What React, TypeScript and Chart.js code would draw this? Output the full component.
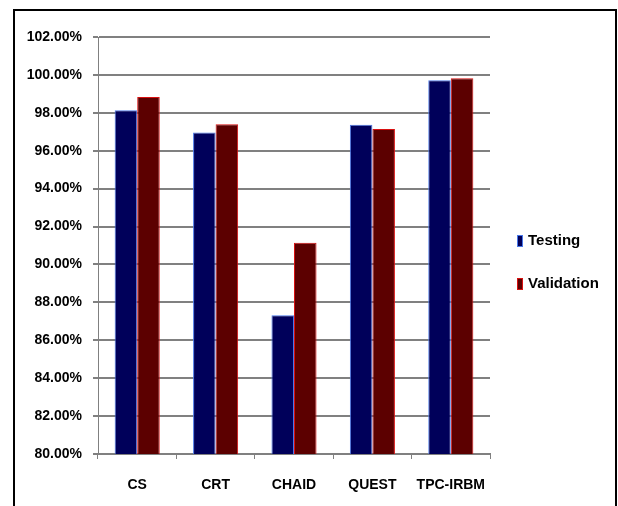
import React, { useEffect, useRef } from "react";
import { Chart, registerables } from "chart.js";

Chart.register(...registerables);

const categories = ["CS", "CRT", "CHAID", "QUEST", "TPC-IRBM"];
const testingValues = [98.14, 96.96, 87.32, 97.37, 99.72];
const validationValues = [98.84, 97.4, 91.14, 97.14, 99.83];
const seriesNames = ["Testing", "Validation"];
const yMin = 80;
const yMax = 102;
const yStep = 2;

const FONT = "'Liberation Sans', Arial, sans-serif";

const legendPlugin = {
  id: "sideLegend",
  afterDraw(chart: any) {
    const { ctx, chartArea } = chart;
    ctx.save();
    ctx.font = `bold 15px ${FONT}`;
    ctx.textBaseline = "middle";
    ctx.textAlign = "left";
    chart.data.datasets.forEach((ds: any, i: number) => {
      const cy = chartArea.top + 204 + i * 43;
      const bx = chartArea.right + 27;
      ctx.fillStyle = ds.backgroundColor;
      ctx.fillRect(bx, cy - 6, 6, 12);
      ctx.strokeStyle = ds.borderColor;
      ctx.lineWidth = 1;
      ctx.strokeRect(bx + 0.5, cy - 5.5, 5, 11);
      ctx.fillStyle = "#000";
      ctx.fillText(ds.label, bx + 11, cy);
    });
    ctx.restore();
  },
};

export default function App() {
  const canvasRef = useRef<HTMLCanvasElement>(null);

  useEffect(() => {
    const chart = new Chart(canvasRef.current!, {
      type: "bar",
      data: {
        labels: categories,
        datasets: [
          {
            label: seriesNames[0],
            data: testingValues,
            backgroundColor: "#00005a",
            borderColor: "#4a78e8",
            borderWidth: 1,
            categoryPercentage: 0.575,
            barPercentage: 1,
          },
          {
            label: seriesNames[1],
            data: validationValues,
            backgroundColor: "#5c0000",
            borderColor: "#d81010",
            borderWidth: 1,
            categoryPercentage: 0.575,
            barPercentage: 1,
          },
        ],
      },
      options: {
        animation: false,
        responsive: false,
        maintainAspectRatio: false,
        layout: { padding: { top: 37, right: 128, bottom: 0, left: 0 } },
        plugins: { legend: { display: false }, tooltip: { enabled: false } },
        scales: {
          x: {
            grid: {
              offset: true,
              drawOnChartArea: false,
              drawTicks: true,
              tickLength: 5,
              color: "#808080",
            },
            border: { color: "#808080", width: 2 },
            ticks: {
              color: "#000",
              padding: 18,
              maxRotation: 0,
              minRotation: 0,
              autoSkip: false,
              font: { family: FONT, size: 14, weight: "bold" },
            },
            afterFit: (s: any) => {
              s.height = 52;
            },
          },
          y: {
            min: yMin,
            max: yMax,
            grid: {
              color: "#808080",
              lineWidth: 2,
              drawTicks: true,
              tickLength: 5,
            },
            border: { color: "#808080", width: 1 },
            ticks: {
              stepSize: yStep,
              color: "#000",
              padding: 11,
              font: { family: FONT, size: 14, weight: "bold" },
              callback: (v: any) => Number(v).toFixed(2) + "%",
            },
            afterFit: (s: any) => {
              s.width = 98;
            },
          },
        },
      },
      plugins: [legendPlugin],
    });
    return () => chart.destroy();
  }, []);

  return (
    <div
      style={{
        position: "fixed",
        left: 0,
        top: 0,
        width: 618,
        height: 506,
        overflow: "hidden",
        background: "#fff",
      }}
    >
      <div
        style={{
          position: "absolute",
          left: 13,
          top: 9,
          width: 600,
          height: 520,
          border: "2px solid #000",
        }}
      />
      <canvas
        ref={canvasRef}
        width={618}
        height={506}
        style={{ position: "absolute", left: 0, top: 0 }}
      />
    </div>
  );
}
